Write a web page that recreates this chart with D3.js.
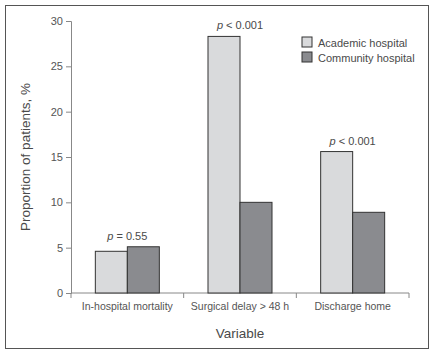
<!DOCTYPE html>
<html>
<head>
<meta charset="utf-8">
<script src="https://cdn.jsdelivr.net/npm/d3@7"></script>
<style>
  body { margin: 0; background: #fff; }
  text { font-family: "Liberation Sans", Arial, sans-serif; fill: #4a4a4a; }
</style>
</head>
<body>
<div id="chart"></div>
<script>
const categories = ["In-hospital mortality", "Surgical delay > 48 h", "Discharge home"];
const seriesNames = ["Academic hospital", "Community hospital"];
const academic = [4.6, 28.3, 15.6];
const community = [5.1, 10.0, 8.9];
const pValues = ["= 0.55", "< 0.001", "< 0.001"];
const yTicks = [0, 5, 10, 15, 20, 25, 30];

const W = 435, H = 355;
const margin = {top: 21, right: 26, bottom: 62, left: 71},
    width = 409 - margin.left,
    height = 293 - margin.top;

const colors = ["#d9dadc", "#8a8b8f"];

const svg = d3.select("#chart")
    .append("svg")
    .attr("width", W)
    .attr("height", H);

// outer frame
svg.append("rect")
    .attr("x", 5.5).attr("y", 5.5)
    .attr("width", 423).attr("height", 343)
    .attr("fill", "none")
    .attr("stroke", "#555")
    .attr("stroke-width", 1);

const g = svg.append("g")
    .attr("transform", `translate(${margin.left},${margin.top})`);

// scales
const x = d3.scaleBand()
    .domain(categories)
    .range([0, width]);
const x1 = d3.scaleBand()
    .domain(seriesNames)
    .range([x.bandwidth() / 2 - 32, x.bandwidth() / 2 + 32]);
const y = d3.scaleLinear()
    .domain([0, 30])
    .range([height, 0]);

// y axis
const yAxis = g.append("g")
    .call(d3.axisLeft(y).tickValues(yTicks).tickSize(5).tickPadding(3));
yAxis.selectAll("path, line").attr("stroke", "#888");
yAxis.selectAll("text").attr("font-size", "11px").style("fill", "#555");

// x axis, ticks at band edges
const xAxis = g.append("g")
    .attr("transform", `translate(0,${height})`);
xAxis.append("line")
    .attr("x1", 0).attr("x2", width)
    .attr("stroke", "#888");
xAxis.selectAll(".edge")
    .data(d3.range(categories.length + 1))
    .enter()
    .append("line")
    .attr("x1", i => i * x.step())
    .attr("x2", i => i * x.step())
    .attr("y1", 0).attr("y2", 5)
    .attr("stroke", "#888");
xAxis.selectAll(".cat")
    .data(categories)
    .enter()
    .append("text")
    .attr("x", d => x(d) + x.bandwidth() / 2)
    .attr("y", 17)
    .attr("text-anchor", "middle")
    .attr("font-size", "10.5px")
    .style("fill", "#555")
    .text(d => d);

// bars
const rows = categories.map((c, i) => ({cat: c, vals: [academic[i], community[i]], p: pValues[i]}));
const groups = g.selectAll(".grp")
    .data(rows)
    .enter()
    .append("g")
    .attr("transform", d => `translate(${x(d.cat)},0)`);

groups.selectAll("rect")
    .data(d => d.vals.map((v, j) => ({key: seriesNames[j], v: v, j: j})))
    .enter()
    .append("rect")
    .attr("x", d => x1(d.key))
    .attr("y", d => y(d.v))
    .attr("width", x1.bandwidth())
    .attr("height", d => height - y(d.v))
    .attr("fill", d => colors[d.j])
    .attr("stroke", "#333")
    .attr("stroke-width", 1);

// p-value labels
const pl = groups.append("text")
    .attr("x", x.bandwidth() / 2)
    .attr("y", d => y(d3.max(d.vals)) - 7)
    .attr("text-anchor", "middle")
    .attr("font-size", "11px");
pl.append("tspan").attr("font-style", "italic").text("p");
pl.append("tspan").text(d => " " + d.p);

// legend
const legend = svg.append("g")
    .attr("transform", "translate(302,37)");
seriesNames.forEach((s, i) => {
    legend.append("rect")
        .attr("x", 0).attr("y", i * 15)
        .attr("width", 10).attr("height", 10)
        .attr("fill", colors[i])
        .attr("stroke", "#333");
    legend.append("text")
        .attr("x", 16).attr("y", i * 15 + 10)
        .attr("font-size", "11px")
        .text(s);
});

// axis titles
svg.append("text")
    .attr("transform", `translate(30,${margin.top + height / 2}) rotate(-90)`)
    .attr("text-anchor", "middle")
    .attr("font-size", "13.5px")
    .text("Proportion of patients, %");

svg.append("text")
    .attr("x", margin.left + width / 2)
    .attr("y", 338)
    .attr("text-anchor", "middle")
    .attr("font-size", "13.5px")
    .text("Variable");
</script>
</body>
</html>
